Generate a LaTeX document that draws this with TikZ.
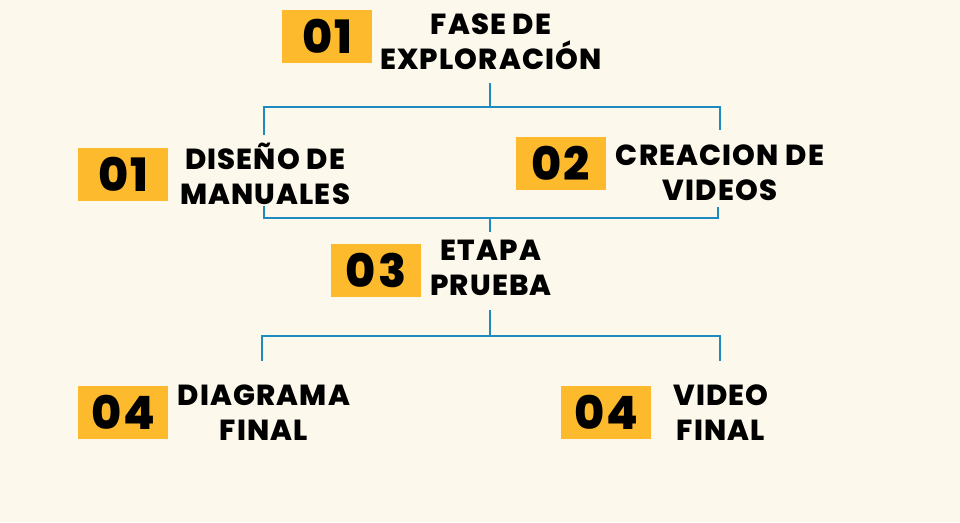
\documentclass[tikz,border=0pt]{standalone}
\usepackage{fontspec}
\setmainfont{Poppins}[LetterSpace=4,BoldFont={Poppins ExtraBold}]
\definecolor{bg}{HTML}{FDF8EC}
\definecolor{numbox}{HTML}{FDBA2C}
\definecolor{conn}{HTML}{1E8BBF}
\begin{document}
\begin{tikzpicture}[x=1pt,y=-1pt,
  numbox/.style={fill=numbox,minimum width=90pt,minimum height=53pt,inner sep=0pt,
    font=\fontsize{46}{46}\selectfont\bfseries},
  lbl/.style={align=center,inner sep=0pt,font=\fontsize{29}{35}\selectfont\bfseries},
  conn/.style={draw=conn,line width=2.8pt}]
\fill[bg] (0,0) rectangle (960,522);
\useasboundingbox (0,0) rectangle (960,522);
% boxes
\node[numbox] (b1) at (327,36) {01};
\node[numbox] (b2) at (123,174) {01};
\node[numbox] (b3) at (561,163) {02};
\node[numbox] (b4) at (376,270) {03};
\node[numbox] (b5) at (123,412) {04};
\node[numbox] (b6) at (606,412) {04};
% labels
\node[lbl] (t1) at (491,42) {FASE DE\\EXPLORACIÓN};
\node[lbl] (t2) at (265,174) {DISEÑO DE\\MANUALES};
\node[lbl] (t3) at (720,173) {CREACION DE\\VIDEOS};
\node[lbl] (t4) at (491,268) {ETAPA\\PRUEBA};
\node[lbl] (t5) at (264,413) {DIAGRAMA\\FINAL};
\node[lbl] (t6) at (721,413) {VIDEO\\FINAL};
% connector coordinates
\coordinate (a0) at (490,83);
\coordinate (a1) at (490,107);
\coordinate (aL) at (264,135);
\coordinate (aR) at (720,130);
\coordinate (m0) at (264,206);
\coordinate (m1) at (718,207);
\coordinate (mc) at (490,218);
\coordinate (m2) at (490,232);
\coordinate (c0) at (490,310);
\coordinate (c1) at (490,336);
\coordinate (cL) at (262,361);
\coordinate (cR) at (720,361);
\draw[conn] (a0) -- (a1);
\draw[conn] (aL) |- (a1) -| (aR);
\draw[conn] (m0) |- (mc) -| (m1);
\draw[conn] (mc) -- (m2);
\draw[conn] (c0) -- (c1);
\draw[conn] (cL) |- (c1) -| (cR);
\end{tikzpicture}
\end{document}
